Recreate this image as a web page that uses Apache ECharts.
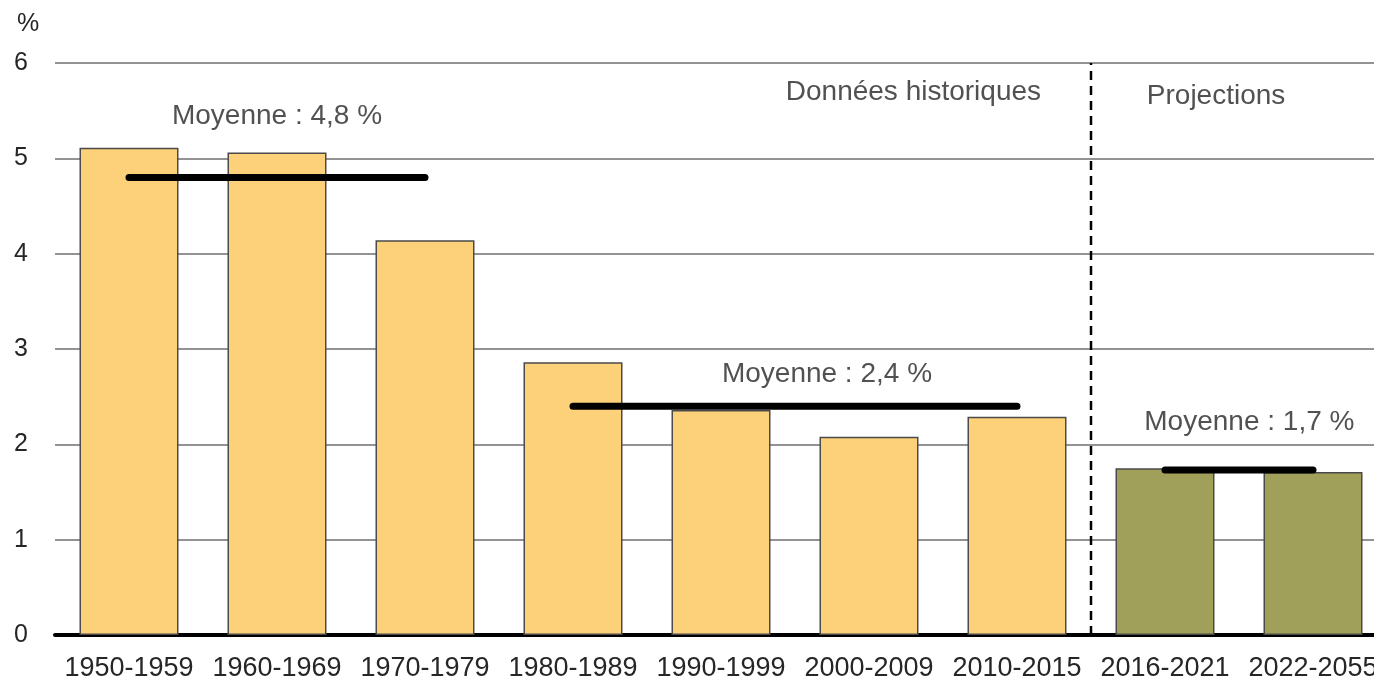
<!DOCTYPE html>
<html>
<head>
<meta charset="utf-8">
<script src="https://cdn.jsdelivr.net/npm/echarts@6/dist/echarts.min.js"></script>
<style>html,body{margin:0;padding:0;background:#fff;}#c{width:1374px;height:681px;}</style>
</head>
<body>
<div id="c"></div>
<script>
const categories = ['1950-1959','1960-1969','1970-1979','1980-1989','1990-1999','2000-2009','2010-2015','2016-2021','2022-2055'];
const historical = [5.11, 5.06, 4.14, 2.86, 2.36, 2.08, 2.29, null, null];
const projections = [null, null, null, null, null, null, null, 1.75, 1.71];
const avg1950 = [4.8, 4.8, 4.8, null, null, null, null, null, null];
const avg1980 = [null, null, null, 2.4, 2.4, 2.4, 2.4, null, null];
const avgProj = [null, null, null, null, null, null, null, 1.73, 1.73];
const yTicks = [0, 1, 2, 3, 4, 5, 6];
const dividerAt = 7;
const annotations = [
  {x: 1.5, y: 5.44, text: 'Moyenne : 4,8 %'},
  {x: 5.216, y: 2.73, text: 'Moyenne : 2,4 %'},
  {x: 8.07, y: 2.23, text: 'Moyenne : 1,7 %'},
  {x: 5.80, y: 5.69, text: 'Données historiques'},
  {x: 7.845, y: 5.65, text: 'Projections'}
];

const FONT = '"Liberation Sans", Arial, sans-serif';
const TXT = '#262626';
const chart = echarts.init(document.getElementById('c'));
const avgLine = (data) => ({
  type: 'line', data: data, xAxisIndex: 0, yAxisIndex: 0, z: 6,
  symbol: 'none', silent: true, connectNulls: false,
  lineStyle: {color: '#000', width: 7, cap: 'round'}
});
chart.setOption({
  animation: false,
  title: {text: '%', left: 12, top: 7, textStyle: {fontFamily: FONT, fontSize: 25, fontWeight: 'normal', color: TXT}},
  grid: {left: 55, top: 63, width: 1332, height: 572, containLabel: false, outerBoundsMode: 'none'},
  xAxis: [
    {
      type: 'category', data: categories, boundaryGap: true,
      axisLine: {show: true, lineStyle: {color: '#000', width: 4}},
      axisTick: {show: false},
      axisLabel: {fontFamily: FONT, fontSize: 27, color: TXT, margin: 20, interval: 0}
    },
    {
      type: 'value', min: 0, max: 9, show: false, position: 'bottom'
    }
  ],
  yAxis: {
    type: 'value', min: 0, max: 6, interval: 1,
    axisLine: {show: false}, axisTick: {show: false},
    axisLabel: {fontFamily: FONT, fontSize: 25, color: TXT, margin: 27,
      formatter: (v) => yTicks.includes(v) ? String(v) : ''},
    splitLine: {lineStyle: {color: '#6f6f6f', width: 1.5}}
  },
  series: [
    {
      type: 'bar', data: historical, stack: 'a', barWidth: 99,
      itemStyle: {color: '#FDD17A', borderColor: '#4a4a4a', borderWidth: 1.5}
    },
    {
      type: 'bar', data: projections, stack: 'a', barWidth: 99,
      itemStyle: {color: '#A0A05A', borderColor: '#4a4a4a', borderWidth: 1.5}
    },
    avgLine(avg1950),
    avgLine(avg1980),
    avgLine(avgProj),
    {
      type: 'line', xAxisIndex: 1, yAxisIndex: 0, z: 4, symbol: 'none', silent: true,
      data: [[dividerAt, 0], [dividerAt, 6]],
      lineStyle: {color: '#000', width: 2.5, type: [9, 6]}
    },
    {
      type: 'scatter', xAxisIndex: 1, yAxisIndex: 0, symbolSize: 0, silent: true, z: 7,
      data: annotations.map(a => ({value: [a.x, a.y], name: a.text})),
      label: {show: true, position: 'inside', formatter: (p) => p.name,
        fontFamily: FONT, fontSize: 28, color: TXT}
    }
  ]
});
</script>
</body>
</html>
